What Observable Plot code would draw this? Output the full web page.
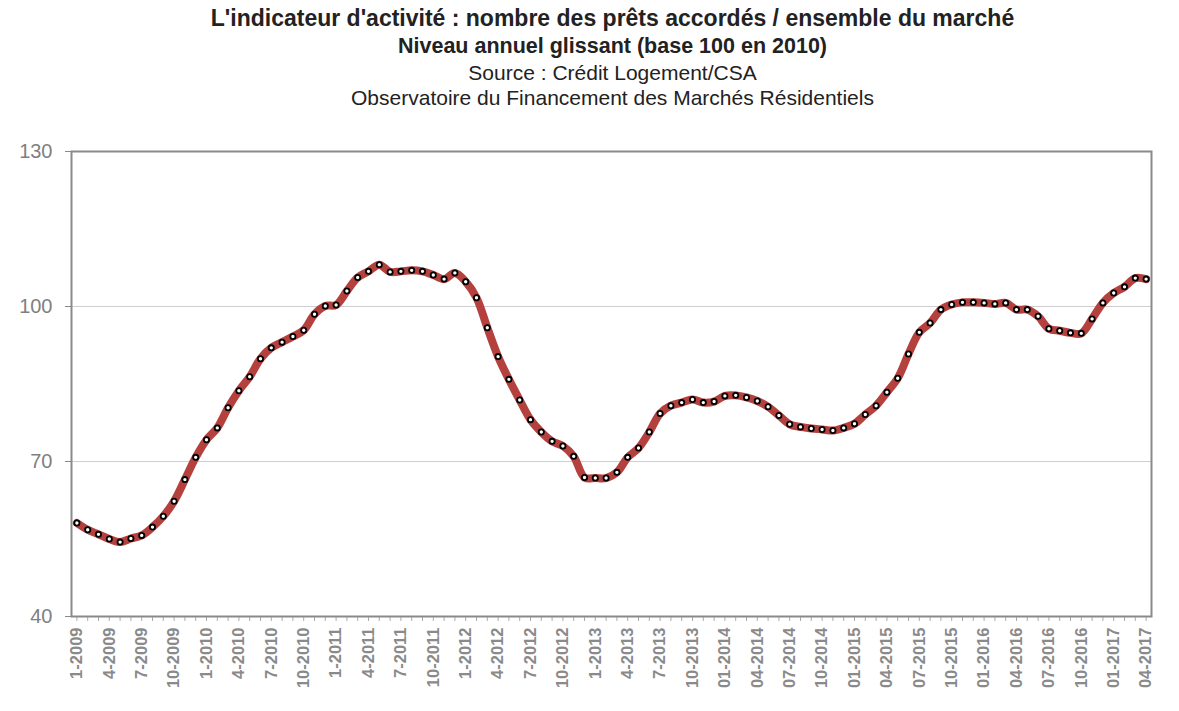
<!DOCTYPE html>
<html><head><meta charset="utf-8">
<script src="https://cdn.jsdelivr.net/npm/d3@7"></script>
<script src="https://cdn.jsdelivr.net/npm/@observablehq/plot@0.6"></script>
<style>
body{margin:0;background:#fff;font-family:"Liberation Sans",Arial,Helvetica,sans-serif;}
#titles{height:120px;box-sizing:border-box;padding-top:4px;padding-left:46px;text-align:center;color:#222;white-space:nowrap;}
.t1{font-weight:bold;font-size:23px;line-height:29px;}
.t2{font-weight:bold;font-size:21.5px;line-height:27px;}
.t3{font-size:21px;line-height:25px;}
.t4{font-size:21px;line-height:25px;}
</style></head><body>
<div id="titles">
<div class="t1">L'indicateur d'activité : nombre des prêts accordés / ensemble du marché</div>
<div class="t2">Niveau annuel glissant (base 100 en 2010)</div>
<div class="t3">Source : Crédit Logement/CSA</div>
<div class="t4">Observatoire du Financement des Marchés Résidentiels</div>
</div>
<div id="chart"></div>
<script>
// monthly index values, Jan 2009 -> Apr 2017
const values = [
  58.1, 56.8, 55.9, 55.0, 54.4, 55.1, 55.7, 57.3, 59.4, 62.3, 66.5, 70.8,
  74.2, 76.5, 80.4, 83.7, 86.4, 89.9, 92.0, 93.1, 94.2, 95.4, 98.5, 100.1,
  100.3, 103.0, 105.6, 106.8, 108.1, 106.7, 106.8, 107.0, 106.8, 106.1, 105.3, 106.5,
  104.8, 101.7, 95.9, 90.3, 85.9, 81.9, 78.1, 75.7, 73.9, 73.0, 71.0, 66.9,
  66.8, 66.8, 67.9, 70.8, 72.6, 75.7, 79.3, 80.8, 81.4, 82.0, 81.4, 81.6,
  82.7, 82.8, 82.4, 81.7, 80.6, 78.9, 77.2, 76.7, 76.4, 76.2, 76.0, 76.5,
  77.3, 79.1, 80.8, 83.4, 86.1, 90.8, 95.0, 96.8, 99.4, 100.4, 100.8, 100.8,
  100.7, 100.5, 100.7, 99.4, 99.4, 98.1, 95.7, 95.3, 94.9, 94.8, 97.6, 100.7,
  102.6, 103.8, 105.5, 105.3
];
const tickLabels = [
  "1-2009","4-2009","7-2009","10-2009",
  "1-2010","4-2010","7-2010","10-2010",
  "1-2011","4-2011","7-2011","10-2011",
  "1-2012","4-2012","7-2012","10-2012",
  "1-2013","4-2013","7-2013","10-2013",
  "01-2014","04-2014","07-2014","10-2014",
  "01-2015","04-2015","07-2015","10-2015",
  "01-2016","04-2016","07-2016","10-2016",
  "01-2017","04-2017"
];
const yTicks = [40, 70, 100, 130];
const gridValues = [70, 100];

const fmt = d3.utcFormat("%Y-%m");
const months = d3.utcMonth.range(new Date(Date.UTC(2009,0,1)), new Date(Date.UTC(2017,4,1))).map(fmt);
const data = months.map((m,i) => ({month: m, value: values[i]}));
const labelledMonths = months.filter((m,i) => i % 3 === 0);
const labelByMonth = new Map(labelledMonths.map((m,k) => [m, tickLabels[k]]));

const plot = Plot.plot({
  width: 1179, height: 591,
  marginTop: 31, marginBottom: 95, marginLeft: 71, marginRight: 28,
  x: {type: "point", domain: months, padding: 0.5},
  y: {domain: [40, 130]},
  style: {fontFamily: "'Liberation Sans', Arial, sans-serif", background: "white"},
  marks: [
    Plot.ruleY(gridValues, {stroke: "#cfcfcf", strokeWidth: 1.2}),
    Plot.axisY({ticks: yTicks, tickSize: 6, tickPadding: 13, fontSize: 20, fill: "#7f7f7f", stroke: "#888", label: null}),
    Plot.axisX({ticks: months, tickSize: 5, tickFormat: () => "", stroke: "#aaa", label: null}),
    Plot.axisX({ticks: labelledMonths, tickSize: 0, tickRotate: -90, tickPadding: 11,
      tickFormat: m => labelByMonth.get(m), fontSize: 16.5, fontWeight: "bold", fill: "#8a8a8a", label: null}),
    Plot.frame({stroke: "#8a8a8a", strokeWidth: 2}),
    Plot.line(data, {x: "month", y: "value", stroke: "#b5413f", strokeWidth: 8, curve: "catmull-rom"}),
    Plot.dot(data, {x: "month", y: "value", r: 2.6, fill: "white", stroke: "black", strokeWidth: 1.8})
  ]
});
document.getElementById("chart").appendChild(plot);
</script>
</body></html>
